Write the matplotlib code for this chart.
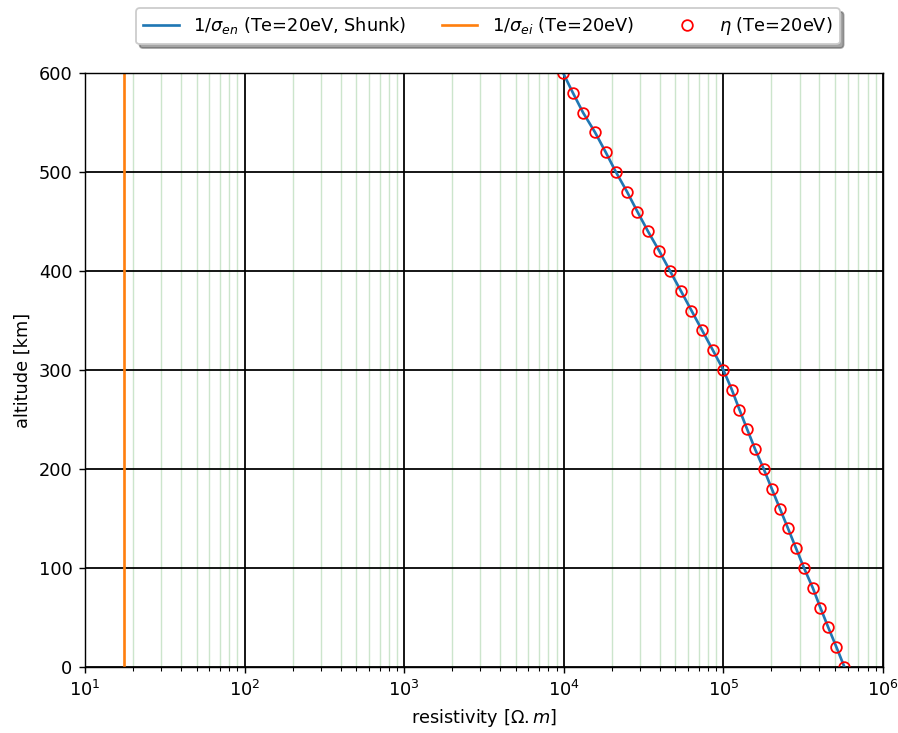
import matplotlib
matplotlib.use("Agg")
import matplotlib.pyplot as plt

# altitude [km]
altitude = [0, 20, 40, 60, 80, 100, 120, 140, 160, 180, 200, 220, 240, 260, 280,
            300, 320, 340, 360, 380, 400, 420, 440, 460, 480, 500, 520, 540, 560, 580, 600]

# 1/sigma_en (Te=20eV, Shunk) [Ohm.m]
res_en = [5.73e5, 5.11e5, 4.54e5, 4.05e5, 3.63e5, 3.20e5, 2.85e5, 2.54e5, 2.26e5, 2.01e5,
          1.79e5, 1.58e5, 1.41e5, 1.26e5, 1.13e5, 1.00e5, 8.59e4, 7.36e4, 6.31e4, 5.41e4,
          4.63e4, 3.97e4, 3.37e4, 2.89e4, 2.49e4, 2.12e4, 1.83e4, 1.57e4, 1.32e4, 1.14e4, 9.9e3]

# 1/sigma_ei (Te=20eV) [Ohm.m]
res_ei = [17.6] * len(altitude)

# eta (Te=20eV) [Ohm.m]
eta = [5.73e5, 5.11e5, 4.54e5, 4.05e5, 3.63e5, 3.20e5, 2.85e5, 2.54e5, 2.26e5, 2.01e5,
       1.79e5, 1.58e5, 1.41e5, 1.26e5, 1.13e5, 1.00e5, 8.59e4, 7.36e4, 6.31e4, 5.41e4,
       4.63e4, 3.97e4, 3.37e4, 2.89e4, 2.49e4, 2.12e4, 1.83e4, 1.57e4, 1.32e4, 1.14e4, 9.9e3]

# 898x733 px at 128 dpi
fig = plt.figure(figsize=(898 / 128, 733 / 128), dpi=128)
ax = fig.add_axes([0.0947, 0.09, 0.8886, 0.8104])

ax.plot(res_en, altitude, color='tab:blue', label=r'1/$\sigma_{en}$ (Te=20eV, Shunk)')
ax.plot(res_ei, altitude, color='tab:orange', label=r'1/$\sigma_{ei}$ (Te=20eV)')
ax.plot(eta, altitude, 'o', mfc='none', mec='red', label=r'$\eta$ (Te=20eV)')

ax.set_xscale('log')
ax.set_xlim(10, 1e6)
ax.set_ylim(0, 600)
ax.set_xlabel(r'resistivity [$\Omega.m$]')
ax.set_ylabel('altitude [km]')

# grid lines
ax.grid(which='major', color='k', linewidth=1)
ax.grid(which='minor', axis='x', color='g', alpha=0.2)

ax.legend(loc='upper center', bbox_to_anchor=(0.505, 1.124), ncol=3, shadow=True)

plt.savefig('out.png', dpi=128)
